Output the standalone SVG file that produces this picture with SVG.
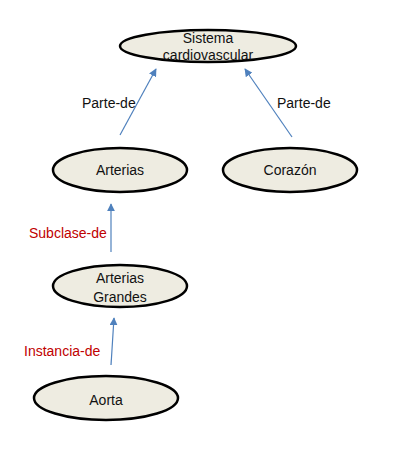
<svg xmlns="http://www.w3.org/2000/svg" width="400" height="470" viewBox="0 0 400 470">
<style>
.node ellipse{fill:#eeece1;stroke:#000;stroke-width:2.5}
.node text{font-family:"Liberation Sans",Arial,sans-serif;font-size:14px;fill:#111;text-anchor:middle}
.edge{stroke:#4f81bd;stroke-width:1.2;fill:none;marker-end:url(#ah)}
.lbl{font-family:"Liberation Sans",Arial,sans-serif;font-size:14px}
.blk{fill:#111}
.red{fill:#c00000}
</style>
<defs>
<marker id="ah" viewBox="0 0 10 10" refX="9" refY="5" markerWidth="8" markerHeight="8" markerUnits="userSpaceOnUse" orient="auto">
<path d="M0,0 L10,5 L0,10 z" fill="#4f81bd"/>
</marker>
</defs>
<rect width="400" height="470" fill="#fff"/>
<g id="connectors">
<line class="edge" x1="120" y1="135" x2="156" y2="69"/>
<line class="edge" x1="292" y1="137" x2="245" y2="69"/>
<line class="edge" x1="111" y1="252" x2="111" y2="204"/>
<line class="edge" x1="111" y1="365" x2="114" y2="318"/>
<text class="lbl blk" x="82" y="108">Parte-de</text>
<text class="lbl blk" x="277" y="108">Parte-de</text>
<text class="lbl red" x="29" y="238">Subclase-de</text>
<text class="lbl red" x="24" y="356">Instancia-de</text>
</g>
<g id="sistema" class="node">
<ellipse cx="208" cy="46" rx="88" ry="16"/>
<text x="208" y="43">Sistema</text>
<text x="208" y="60">cardiovascular</text>
</g>
<g id="arterias" class="node">
<ellipse cx="120" cy="170" rx="67" ry="22"/>
<text x="120" y="175">Arterias</text>
</g>
<g id="corazon" class="node">
<ellipse cx="290" cy="170" rx="67" ry="22"/>
<text x="290" y="175">Corazón</text>
</g>
<g id="arterias-grandes" class="node">
<ellipse cx="120" cy="286" rx="67" ry="21"/>
<text x="120" y="283">Arterias</text>
<text x="120" y="302">Grandes</text>
</g>
<g id="aorta" class="node">
<ellipse cx="106" cy="398" rx="72" ry="22"/>
<text x="106" y="405">Aorta</text>
</g>
</svg>
